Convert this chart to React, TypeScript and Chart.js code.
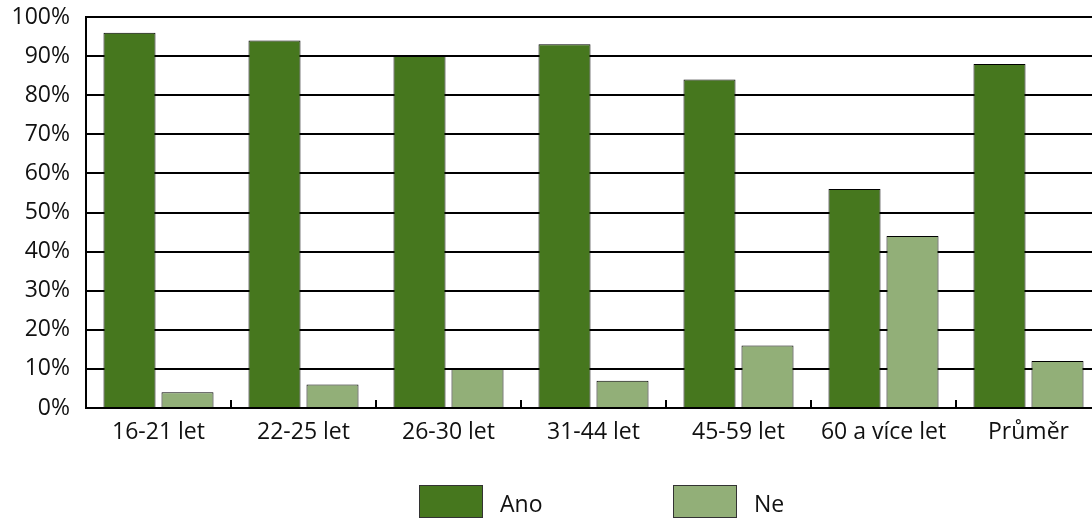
import React, { useEffect, useRef } from "react";
import { Chart, registerables } from "chart.js";

Chart.register(...registerables);

const categories = ["16-21 let", "22-25 let", "26-30 let", "31-44 let", "45-59 let", "60 a více let", "Průměr"];
const anoValues = [96, 94, 90, 93, 84, 56, 88];
const neValues = [4, 6, 10, 7, 16, 44, 12];
const seriesLabels = ["Ano", "Ne"];
const seriesColors = ["#46771E", "#92AF78"];

const FONT = "'Open Sans', 'Noto Sans', sans-serif";
const FONT_SIZE = 23;

const innerTicks = {
  id: "innerTicks",
  afterDatasetsDraw(chart: any) {
    const { ctx, chartArea, scales } = chart;
    const x = scales.x;
    const n = categories.length;
    const w = (chartArea.right - chartArea.left) / n;
    ctx.save();
    ctx.strokeStyle = "#000";
    ctx.lineWidth = 2;
    for (let k = 1; k <= n; k++) {
      const px = Math.round(x.left + k * w);
      ctx.beginPath();
      ctx.moveTo(px, chartArea.bottom);
      ctx.lineTo(px, chartArea.bottom - 8);
      ctx.stroke();
    }
    ctx.restore();
  },
};

const customLegend = {
  id: "customLegend",
  afterDraw(chart: any) {
    const { ctx } = chart;
    const xs = [419, 673];
    const y = 485;
    ctx.save();
    chart.data.datasets.forEach((ds: any, i: number) => {
      ctx.fillStyle = ds.backgroundColor;
      ctx.fillRect(xs[i], y, 64, 33);
      ctx.strokeStyle = "#333";
      ctx.lineWidth = 1;
      ctx.strokeRect(xs[i] + 0.5, y + 0.5, 63, 32);
      ctx.fillStyle = "#111";
      ctx.font = `${FONT_SIZE}px ${FONT}`;
      ctx.textBaseline = "middle";
      ctx.textAlign = "left";
      ctx.fillText(ds.label, xs[i] + 81, y + 20);
    });
    ctx.restore();
  },
};

export default function App() {
  const ref = useRef<HTMLCanvasElement>(null);
  useEffect(() => {
    document.body.style.margin = "0";
    document.body.style.overflow = "hidden";
    const chart = new Chart(ref.current!, {
      type: "bar",
      data: {
        labels: categories,
        datasets: [
          { label: seriesLabels[0], data: anoValues, backgroundColor: seriesColors[0] },
          { label: seriesLabels[1], data: neValues, backgroundColor: seriesColors[1] },
        ].map((d) => ({
          ...d,
          borderColor: "#000",
          borderWidth: 1,
          categoryPercentage: 0.8,
          barPercentage: 0.897,
        })),
      },
      options: {
        responsive: false,
        animation: false,
        layout: { padding: { top: 17, right: 29, bottom: 0, left: 0 } },
        plugins: { legend: { display: false }, tooltip: { enabled: false } },
        scales: {
          x: {
            grid: { display: false, drawTicks: false },
            border: { display: true, color: "#000", width: 2 },
            ticks: { color: "#111", font: { family: FONT, size: FONT_SIZE }, padding: 11, maxRotation: 0 },
            afterFit: (s: any) => { s.height = 111; s.paddingLeft = 0; s.paddingRight = 0; },
          },
          y: {
            min: 0,
            max: 100,
            grid: { color: "#000", lineWidth: 2, drawTicks: false },
            border: { display: true, color: "#000", width: 2 },
            ticks: {
              stepSize: 10,
              padding: 16,
              color: "#111",
              font: { family: FONT, size: FONT_SIZE },
              callback: (v: any) => v + "%",
            },
            afterFit: (s: any) => { s.width = 86; s.paddingTop = 0; s.paddingBottom = 0; },
          },
        },
      },
      plugins: [innerTicks, customLegend],
    });
    return () => chart.destroy();
  }, []);
  return (
    <div style={{ width: 1130, height: 519, overflow: "hidden" }}>
      <canvas ref={ref} width={1130} height={519} />
    </div>
  );
}
